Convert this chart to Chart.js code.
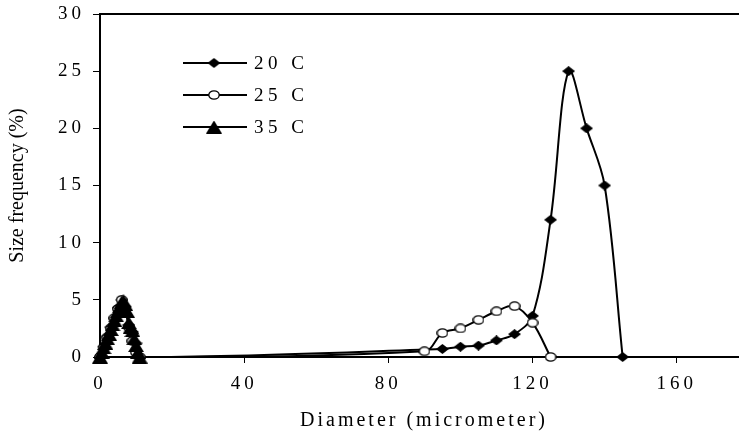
<!DOCTYPE html>
<html>
<head>
<meta charset="utf-8">
<script src="https://cdn.jsdelivr.net/npm/chart.js@4/dist/chart.umd.min.js"></script>
<style>
  html, body { margin: 0; padding: 0; background: #fff; }
  canvas { display: block; }
</style>
</head>
<body>
<canvas id="c" width="746" height="434"></canvas>
<script>
// size frequency (%) against diameter (micrometer), one pair of arrays per temperature
const diam20 = [0, 1, 2, 3, 4, 5, 6, 7, 8, 9, 10, 11, 95, 100, 105, 110, 115, 120, 125, 130, 135, 140, 145];
const freq20 = [0, 0.9, 1.8, 2.6, 3.4, 4.3, 5.0, 4.4, 2.8, 2.2, 1.2, 0, 0.7, 0.9, 1.0, 1.45, 2.0, 3.6, 12, 25, 20, 15, 0];

const diam25 = [0, 1, 2, 3, 4, 5, 6, 7, 8, 9, 10, 11, 90, 95, 100, 105, 110, 115, 120, 125];
const freq25 = [0, 0.8, 1.7, 2.5, 3.4, 4.2, 5.0, 4.2, 2.6, 1.4, 0.4, 0, 0.5, 2.1, 2.5, 3.25, 4.0, 4.45, 3.0, 0];

const diam35 = [0, 0.5, 1, 1.5, 2, 2.5, 3, 3.5, 4, 4.5, 5, 5.5, 6, 6.5, 7, 7.5, 8, 8.5, 9, 9.5, 10, 10.5, 11];
const freq35 = [0, 0.4, 0.8, 1.2, 1.6, 2.0, 2.4, 2.8, 3.2, 3.6, 4.0, 4.4, 4.8, 4.9, 4.6, 4.0, 3.0, 2.6, 2.3, 1.6, 1.0, 0.4, 0];

const seriesNames = ['20 C', '25 C', '35 C'];
const xTicks = [0, 40, 80, 120, 160];
const yTicks = [0, 5, 10, 15, 20, 25, 30];

const FONT = "'Liberation Serif', 'Times New Roman', serif";
const pts = (xs, ys) => xs.map((x, i) => ({ x: x, y: ys[i] }));

// the original export is a little stretched sideways, so the markers are wider than tall
const marker = (w, h, draw) => {
    const cv = document.createElement('canvas');
    cv.width = w;
    cv.height = h;
    const g = cv.getContext('2d');
    g.fillStyle = '#000';
    g.strokeStyle = '#000';
    g.lineWidth = 1.3;
    draw(g, w, h);
    return cv;
};
const diamond = marker(13, 10, (g, w, h) => {
    g.beginPath();
    g.moveTo(w / 2, 0); g.lineTo(w, h / 2); g.lineTo(w / 2, h); g.lineTo(0, h / 2);
    g.closePath();
    g.fill();
});
const ring = marker(12, 10, (g, w, h) => {
    g.beginPath();
    g.ellipse(w / 2, h / 2, w / 2 - 0.8, h / 2 - 0.8, 0, 0, Math.PI * 2);
    g.fillStyle = '#fff';
    g.fill();
    g.stroke();
});
const tri = marker(16, 13, (g, w, h) => {
    g.beginPath();
    g.moveTo(w / 2, 0); g.lineTo(w, h); g.lineTo(0, h);
    g.closePath();
    g.fill();
});

const base = {
    borderColor: '#000',
    borderWidth: 2,
    pointRadius: 6,
    tension: 0.35,
    clip: false,
};

const datasets = [
    { ...base, label: seriesNames[0], data: pts(diam20, freq20), pointStyle: diamond, order: 3 },
    { ...base, label: seriesNames[1], data: pts(diam25, freq25), pointStyle: ring, order: 2 },
    { ...base, label: seriesNames[2], data: pts(diam35, freq35), pointStyle: tri, order: 1 },
];

// letter spacing stands in for the stretched text of the original, set per part of a scale
const spaced = (s, method, px, dx = 0) => {
    if (s['_sp_' + method]) return;
    const orig = s[method].bind(s);
    s[method] = (...args) => {
        const ctx = s.ctx;
        ctx.save();
        ctx.letterSpacing = px;
        ctx.translate(dx, 0);
        orig(...args);
        ctx.restore();
    };
    s['_sp_' + method] = true;
};

// legend sits inside the plot, upper left
const insideLegend = {
    id: 'insideLegend',
    afterDraw: chart => {
        const ctx = chart.ctx;
        const x0 = 183, x1 = 247, mx = 214, tx = 254;
        const rows = [63, 95, 127];
        ctx.save();
        ctx.letterSpacing = '4.5px';
        chart.data.datasets.forEach((ds, i) => {
            const y = rows[i];
            ctx.strokeStyle = '#000';
            ctx.lineWidth = 2;
            ctx.beginPath();
            ctx.moveTo(x0, y);
            ctx.lineTo(x1, y);
            ctx.stroke();
            Chart.helpers.drawPoint(ctx, { pointStyle: ds.pointStyle, radius: 6, rotation: 0 }, mx, y);
            ctx.fillStyle = '#000';
            ctx.font = '19px ' + FONT;
            ctx.textBaseline = 'middle';
            ctx.textAlign = 'left';
            ctx.fillText(ds.label, tx, y + 1);
        });
        ctx.restore();
    }
};

new Chart(document.getElementById('c').getContext('2d'), {
    type: 'line',
    data: { datasets },
    plugins: [insideLegend],
    options: {
        responsive: false,
        animation: false,
        layout: { padding: { left: 0, right: 1, top: 14, bottom: 0 } },
        plugins: {
            legend: { display: false },
            tooltip: { enabled: false },
            title: { display: false },
        },
        scales: {
            x: {
                type: 'linear',
                min: 0,
                max: 177,
                afterFit: s => {
                    s.height = 77;
                    s.paddingLeft = 0;
                    s.paddingRight = 0;
                    spaced(s, 'drawLabels', '4px');
                    spaced(s, 'drawTitle', '3px', 5);
                },
                afterBuildTicks: s => { s.ticks = xTicks.map(v => ({ value: v })); },
                ticks: { color: '#000', font: { family: FONT, size: 19 }, padding: 10, maxRotation: 0 },
                grid: { drawOnChartArea: false, drawTicks: true, tickLength: 6, color: '#000', lineWidth: 1 },
                border: { display: true, color: '#000', width: 2 },
                title: { display: true, text: 'Diameter (micrometer)', color: '#000',
                         font: { family: FONT, size: 20 }, padding: { top: 0, bottom: 1 } },
            },
            top: {
                type: 'linear',
                position: 'top',
                min: 0,
                max: 177,
                afterFit: s => { s.height = 0; s.paddingLeft = 0; s.paddingRight = 0; },
                ticks: { display: false },
                grid: { display: false },
                border: { display: true, color: '#000', width: 2 },
            },
            y: {
                min: 0,
                max: 30,
                afterFit: s => {
                    s.width = 100;
                    s.paddingTop = 0;
                    s.paddingBottom = 0;
                    spaced(s, 'drawLabels', '4px');
                },
                afterBuildTicks: s => { s.ticks = yTicks.map(v => ({ value: v })); },
                ticks: { color: '#000', font: { family: FONT, size: 19 }, padding: 8 },
                grid: { drawOnChartArea: false, drawTicks: true, tickLength: 7, color: '#000', lineWidth: 1 },
                border: { display: true, color: '#000', width: 2 },
                title: { display: true, text: 'Size frequency (%)', color: '#000',
                         font: { family: FONT, size: 20 }, padding: { top: 6, bottom: 0 } },
            },
        },
    },
});
</script>
</body>
</html>
